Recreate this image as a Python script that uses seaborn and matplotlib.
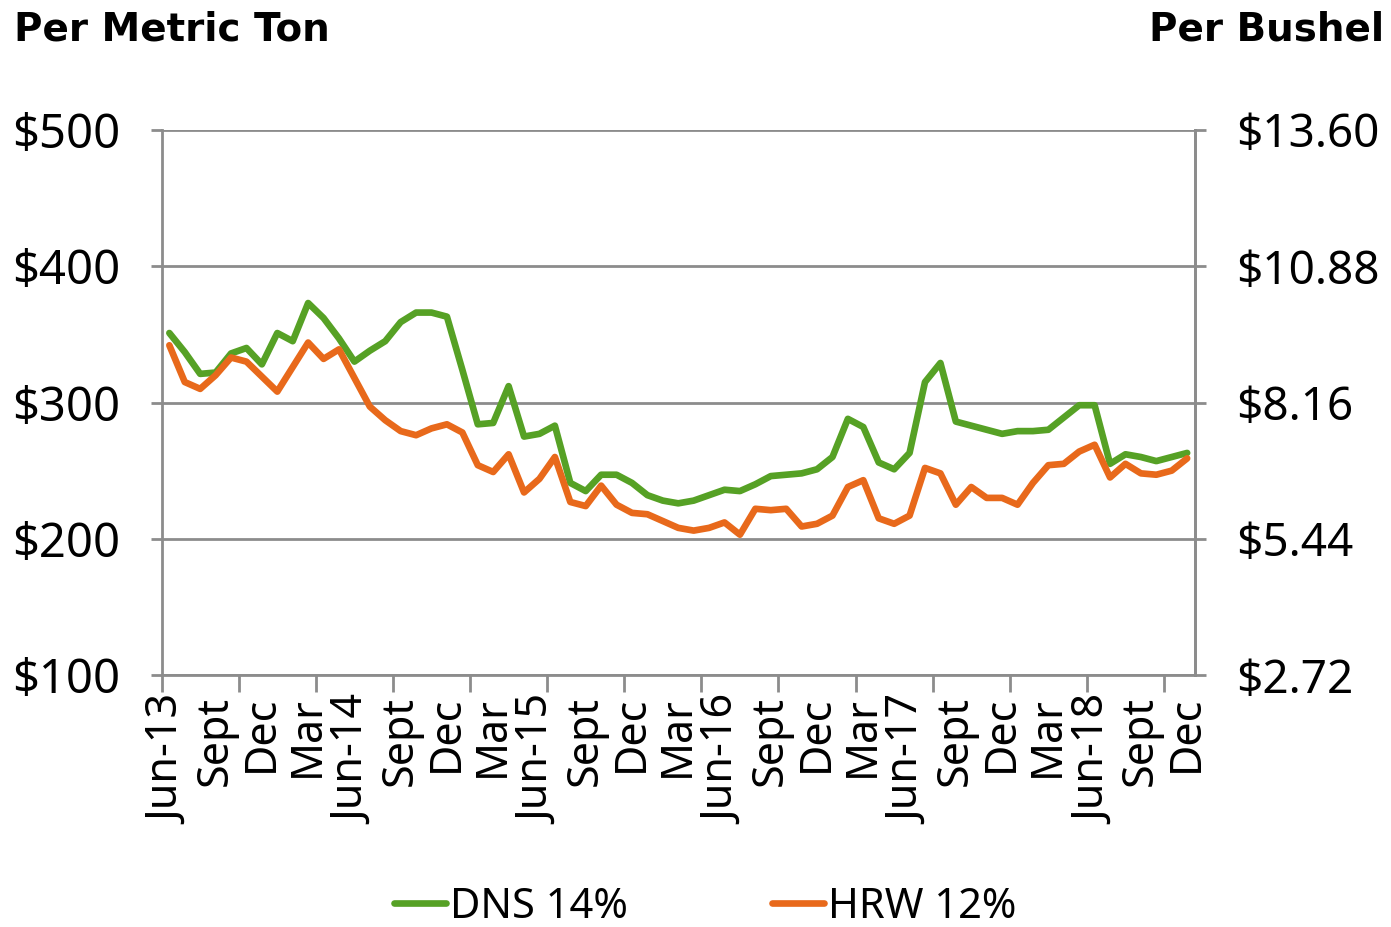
import pandas as pd
import matplotlib.pyplot as plt
import matplotlib.ticker as mticker
import seaborn as sns

# monthly export prices, Jun-2013 .. Dec-2018 ($ per metric ton)
months = pd.date_range("2013-06-01", "2018-12-01", freq="MS")

dns_14 = [
    351, 337, 321, 322, 336, 340, 328, 351, 345, 373,
    362, 347, 330, 338, 345, 359, 366, 366, 363, 324,
    284, 285, 312, 275, 277, 283, 241, 235, 247, 247,
    241, 232, 228, 226, 228, 232, 236, 235, 240, 246,
    247, 248, 251, 260, 288, 282, 256, 251, 263, 315,
    329, 286, 283, 280, 277, 279, 279, 280, 289, 298,
    298, 255, 262, 260, 257, 260, 263,
]

hrw_12 = [
    342, 315, 310, 320, 333, 330, 319, 308, 326, 344,
    332, 339, 318, 297, 287, 279, 276, 281, 284, 278,
    254, 249, 262, 234, 244, 260, 227, 224, 239, 225,
    219, 218, 213, 208, 206, 208, 212, 203, 222, 221,
    222, 209, 211, 217, 238, 243, 215, 211, 217, 252,
    248, 225, 238, 230, 230, 225, 241, 254, 255, 264,
    269, 245, 255, 248, 247, 250, 259,
]

series_names = ["DNS 14%", "HRW 12%"]
series_colors = ["#56A125", "#E8691B"]

tick_pos = list(range(0, 67, 3))
tick_labels = [
    "Jun-13", "Sept", "Dec", "Mar", "Jun-14", "Sept", "Dec", "Mar",
    "Jun-15", "Sept", "Dec", "Mar", "Jun-16", "Sept", "Dec", "Mar",
    "Jun-17", "Sept", "Dec", "Mar", "Jun-18", "Sept", "Dec",
]

ton_ticks = [100, 200, 300, 400, 500]
bushel_per_ton = 0.0272

df = pd.DataFrame({"Month": months, series_names[0]: dns_14, series_names[1]: hrw_12})
df["idx"] = range(len(df))
long_df = df.melt(id_vars=["Month", "idx"], var_name="Series", value_name="Price")

sns.set_theme(style="white")
plt.rcParams["font.family"] = ["Noto Sans", "DejaVu Sans"]
plt.rcParams["text.color"] = "black"
plt.rcParams["xtick.labelcolor"] = "black"
plt.rcParams["ytick.labelcolor"] = "black"

grid_c = "#8C8C8C"

fig = plt.figure(figsize=(13.91, 9.27), dpi=100)
ax = fig.add_axes([0.1162, 0.2718, 0.7428, 0.588])

sns.lineplot(
    data=long_df,
    x="idx",
    y="Price",
    hue="Series",
    palette=series_colors,
    linewidth=4.8,
    ax=ax,
    legend=False,
)

ax.set_xlim(-0.5, len(months) - 0.5)
ax.set_ylim(100, 500)
ax.set_yticks(ton_ticks)
ax.yaxis.set_major_formatter(mticker.FuncFormatter(lambda v, p: f"${v:.0f}"))
ax.grid(axis="y", color=grid_c, linewidth=2)
ax.set_axisbelow(True)

ax.set_xticks(tick_pos)
ax.set_xticklabels(tick_labels, rotation=90, fontsize=31)
ax.set_xticks([x - 0.5 for x in range(0, 67, 5)], minor=True)
ax.tick_params(axis="x", which="major", length=0, pad=15)
ax.tick_params(axis="x", which="minor", length=12, width=2, color=grid_c, direction="out")
ax.tick_params(axis="y", length=8, width=2, color=grid_c, direction="out", labelsize=34, pad=22)
ax.set_xlabel("")
ax.set_ylabel("")

for side in ["left", "bottom", "right"]:
    ax.spines[side].set_color(grid_c)
    ax.spines[side].set_linewidth(2)
ax.spines["top"].set_visible(False)
ax.tick_params(axis="both", which="both", bottom=True, left=True)

ax2 = ax.twinx()
ax2.set_ylim(100 * bushel_per_ton, 500 * bushel_per_ton)
ax2.set_yticks([t * bushel_per_ton for t in ton_ticks])
ax2.yaxis.set_major_formatter(mticker.FuncFormatter(lambda v, p: f"${v:.2f}"))
ax2.tick_params(axis="y", length=8, width=2, color=grid_c, direction="out", labelsize=33, pad=22)
for side in ["left", "bottom", "top"]:
    ax2.spines[side].set_visible(False)
ax2.spines["right"].set_color(grid_c)
ax2.spines["right"].set_linewidth(2)

fig.text(0.01, 0.968, "Per Metric Ton", fontsize=28, fontweight="bold",
         family="DejaVu Sans", va="center", ha="left")
fig.text(0.995, 0.968, "Per Bushel", fontsize=28, fontweight="bold",
         family="DejaVu Sans", va="center", ha="right")

handles = [plt.Line2D([], [], color=c, linewidth=4.8, solid_capstyle="round") for c in series_colors]
fig.legend(
    handles,
    series_names,
    loc="center",
    bbox_to_anchor=(0.507, 0.022),
    ncol=2,
    frameon=False,
    fontsize=30,
    handlelength=1.25,
    handletextpad=0.1,
    columnspacing=3.45,
)

fig.savefig("out.png", dpi=100)
